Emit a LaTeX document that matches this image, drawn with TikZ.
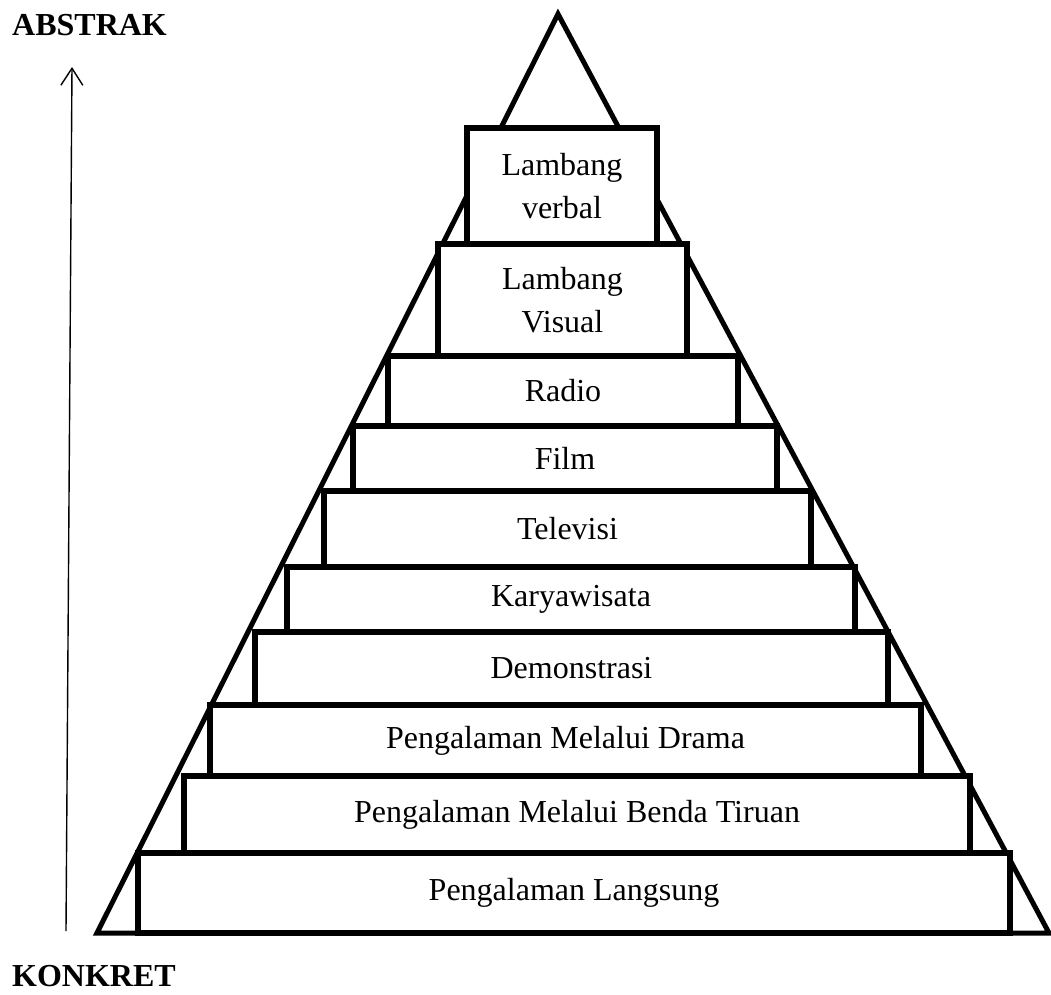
\documentclass[tikz,border=0pt]{standalone}
\usepackage{fontspec}
\setmainfont{Liberation Serif}
\usetikzlibrary{arrows.meta}

\begin{document}
\begin{tikzpicture}[x=1pt,y=-1pt,
    lvl/.style={rectangle,draw=black,fill=white,line width=5.5pt,inner sep=0pt,align=center,
      font=\fontsize{32}{43}\selectfont},
    tri/.style={line width=5pt,line join=miter},
    ax/.style={-{Straight Barb[length=17pt,width=22pt,line width=1.4pt]},line width=1.4pt},
    lbl/.style={font=\fontsize{32}{38}\selectfont\bfseries,inner sep=0pt}
  ]
    \useasboundingbox (0,0) rectangle (1051,994);
    % pyramid outline
    \coordinate (top) at (558,14);
    \coordinate (bl) at (97,933);
    \coordinate (br) at (1049,933);
    \draw[tri] (top) -- (bl) -- (br) -- cycle;
    % levels
    \node[lvl,minimum width=190,minimum height=116] (verbal) at (562,186) {Lambang\\verbal};
    \node[lvl,minimum width=249,minimum height=112] (visual) at (562.5,300) {Lambang\\Visual};
    \node[lvl,minimum width=350,minimum height=70] (radio) at (563,391) {Radio};
    \node[lvl,minimum width=424,minimum height=65] (film) at (565,458.5) {Film};
    \node[lvl,minimum width=487,minimum height=76] (tv) at (567.5,529) {Televisi};
    \node[lvl,minimum width=568,minimum height=65] (wisata) at (571,599.5) {Karyawisata};
    \node[lvl,minimum width=633,minimum height=73] (demo) at (571.5,668.5) {Demonstrasi};
    \node[lvl,minimum width=711,minimum height=71] (drama) at (565.5,740.5) {Pengalaman Melalui Drama};
    \node[lvl,minimum width=786,minimum height=77] (tiruan) at (577,814.5) {Pengalaman Melalui Benda Tiruan};
    \node[lvl,minimum width=872,minimum height=80] (langsung) at (574,893) {Pengalaman Langsung};
    % axis
    \coordinate (konkret pt) at (66,931);
    \coordinate (abstrak pt) at (72,67);
    \draw[ax] (konkret pt) -- (abstrak pt);
    \node[lbl,anchor=base west] (abstrak) at (12,35) {ABSTRAK};
    \node[lbl,anchor=base west] (konkret) at (12,986) {KONKRET};
\end{tikzpicture}
\end{document}
